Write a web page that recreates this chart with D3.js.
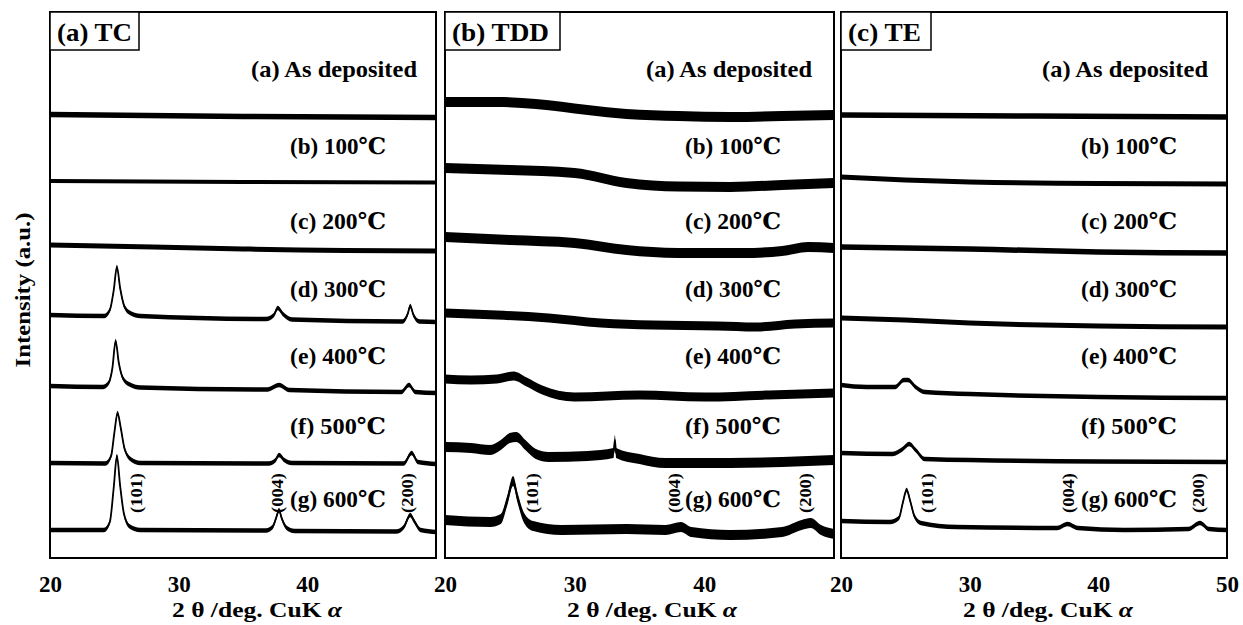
<!DOCTYPE html>
<html>
<head>
<meta charset="utf-8">
<script src="https://cdn.jsdelivr.net/npm/d3@7"></script>
<style>
  body { margin: 0; background: #fff; }
  svg text { font-family: "Liberation Serif", "DejaVu Serif", "Noto Sans CJK JP", serif; font-weight: bold; fill: #000; }
</style>
</head>
<body>
<div id="chart"></div>
<script>
// ---- data ----
const panelNames = ["(a) TC", "(b) TDD", "(c) TE"];
const sampleLabels = ["(a) As deposited", "(b) 100℃", "(c) 200℃", "(d) 300℃", "(e) 400℃", "(f) 500℃", "(g) 600℃"];
const hklLabels = ["(101)", "(004)", "(200)"];
const ticksInner = [20, 30, 40];
const ticksLast = [20, 30, 40, 50];

// [2θ (deg), intensity (a.u., stacked)]
const tcTraces = [
  [[20, 88.7], [35, 88.3], [50, 88.1]],
  [[20, 75.4], [35, 75.2], [50, 75.1]],
  [[20, 62.6], [28, 62.2], [35, 61.8], [50, 61.4]],
  [[20, 48.6], [24.2, 48.4], [24.65, 49.6], [24.95, 53.5], [25.2, 58.2], [25.45, 54], [25.8, 50.2], [26.3, 48.9], [27, 48.4],
   [36.8, 47.8], [37.4, 48.6], [37.7, 50.0], [38.1, 48.8], [38.8, 47.7],
   [47.4, 47.3], [47.8, 48.8], [48.0, 50.4], [48.25, 48.6], [48.7, 47.3], [50, 47.2]],
  [[20, 34.4], [24.1, 34.2], [24.55, 35.0], [24.85, 38.0], [25.1, 43.4], [25.35, 39], [25.7, 35.8], [26.2, 34.7], [27, 34.1],
   [36.9, 33.7], [37.8, 34.6], [38.6, 33.6], [47.3, 33.2], [47.9, 34.6], [48.4, 33.2], [50, 33.0]],
  [[20, 19.0], [24.3, 18.9], [24.75, 20.4], [25.0, 25], [25.25, 29.0], [25.5, 26], [25.8, 21.8], [26.3, 19.7], [27, 19.0],
   [37.0, 18.9], [37.5, 19.5], [37.8, 20.6], [38.2, 19.6], [38.8, 19.0], [47.5, 18.9], [48.1, 21.0], [48.6, 19.2], [50, 18.8]],
  [[20, 5.6], [24.2, 5.6], [24.65, 7.2], [24.95, 14], [25.2, 20.4], [25.45, 14.5], [25.75, 8.8], [26.2, 6.3], [27, 5.6],
   [36.8, 5.5], [37.3, 6.2], [37.6, 8.2], [37.8, 9.6], [38.0, 8.0], [38.4, 6.0], [39, 5.4],
   [46.9, 5.3], [47.5, 6.2], [48.0, 8.6], [48.3, 7.4], [48.8, 5.6], [50, 5.2]]
];

const tddTraces = [
  [[20, 91.2], [24, 91.2], [27, 90.8], [31, 89.6], [34, 88.8], [38, 88.4], [42, 88.2], [46, 88.4], [50, 88.6]],
  [[20, 78.0], [25, 77.6], [30, 77.0], [34, 75.0], [38, 74.3], [42, 74.2], [46, 74.6], [50, 75.0]],
  [[20, 64.2], [25, 63.6], [30, 63.0], [34, 61.6], [38, 61.0], [43, 61.0], [46, 61.4], [48, 62.2], [50, 62.0]],
  [[20, 49.0], [24, 48.6], [28, 48.0], [32, 47.0], [36, 46.6], [41, 46.4], [44, 46.2], [47, 46.8], [50, 47.0]],
  [[20, 35.8], [22, 35.6], [24, 35.8], [25.3, 36.4], [26.3, 35.2], [27.5, 33.6], [30, 32.2], [35, 32.6], [40, 32.2], [45, 32.6], [50, 33.0]],
  [[20, 22.2], [22, 22.0], [23.5, 21.6], [24.3, 22.6], [25.0, 24.0], [25.5, 24.2], [26.2, 22.6], [27, 20.8], [28, 20.2], [31, 20.4],
   [33.0, 21.0], [33.1, 23.6], [33.2, 21.0], [35, 19.8], [37, 19.0], [42, 19.0], [46, 19.2], [50, 19.6]],
  [[20, 7.6], [23.5, 7.2], [24.3, 7.8], [24.8, 11.5], [25.25, 15.4], [25.6, 12.0], [26.1, 8.0], [26.8, 6.4], [29, 5.6], [34, 5.8],
   [37, 5.6], [38.2, 6.2], [39, 5.2], [42, 4.6], [46, 5.2], [47.5, 6.6], [48.2, 7.0], [49, 5.6], [50, 4.8]]
];

const teTraces = [
  [[20, 88.6], [35, 88.4], [50, 88.2]],
  [[20, 76.2], [25, 75.6], [30, 75.2], [40, 74.9], [50, 74.8]],
  [[20, 62.2], [30, 61.8], [40, 61.2], [50, 61.0]],
  [[20, 48.0], [25, 47.6], [30, 47.0], [40, 46.4], [50, 46.2]],
  [[20, 34.6], [22, 34.2], [24.2, 34.2], [24.9, 35.6], [25.2, 35.6], [25.8, 34.2], [26.5, 33.2], [30, 32.8], [40, 32.2], [50, 32.0]],
  [[20, 21.0], [24, 20.8], [24.8, 21.8], [25.3, 22.8], [25.8, 21.6], [26.5, 19.8], [30, 19.6], [40, 19.3], [50, 19.2]],
  [[20, 7.4], [23.8, 7.2], [24.5, 8.0], [24.8, 11.0], [25.1, 13.6], [25.4, 11.2], [25.7, 8.4], [26.2, 7.0], [29, 6.2],
   [36.8, 6.0], [37.6, 6.8], [38.4, 6.0], [42, 5.6], [47, 5.8], [47.9, 7.0], [48.6, 5.8], [50, 5.6]]
];

// half width of the noise band of each trace (a.u.)
const tcNoise = [0.55, 0.4, 0.5, 0.45, 0.45, 0.45, 0.45];
const tddNoise = [1.0, 1.0, 1.0, 0.9, 0.9, 1.0, 1.0];
const teNoise = [0.55, 0.5, 0.55, 0.5, 0.45, 0.45, 0.45];

// ---- layout ----
const W = 1243, H = 625;
const plotTop = 12, plotBottom = 558;
const panels = [
  {left: 50, right: 436, boxW: 89, titleW: 75, traces: tcTraces, noise: tcNoise, ticks: ticksInner},
  {left: 445, right: 834, boxW: 115, titleW: 97, traces: tddTraces, noise: tddNoise, ticks: ticksInner},
  {left: 841, right: 1227, boxW: 90, titleW: 73, traces: teTraces, noise: teNoise, ticks: ticksLast}
];
// label baselines (a.u. on the stacked scale)
const labelLevel = [96.2, 80.8, 65.8, 52.2, 38.8, 24.8, 10.2];
const hklAt = [26.7, 37.65, 47.75];

const svg = d3.select("#chart").append("svg")
  .attr("width", W).attr("height", H);

const y = d3.scaleLinear().domain([0, 110]).range([plotBottom, plotBottom - 550]);

panels.forEach((p, pi) => {
  const x = d3.scaleLinear().domain([20, 50]).range([p.left, p.right]);
  const g = svg.append("g");

  // traces: noise band + centre line
  const band = d3.area()
    .x(d => x(d[0]))
    .curve(d3.curveMonotoneX);
  const line = d3.line()
    .x(d => x(d[0])).y(d => y(d[1]))
    .curve(d3.curveMonotoneX);

  p.traces.forEach((tr, i) => {
    const a = p.noise[i];
    g.append("path")
      .attr("d", band.y0(d => y(d[1] - a)).y1(d => y(d[1] + a))(tr))
      .attr("fill", "#000");
    g.append("path")
      .attr("d", line(tr))
      .attr("fill", "none")
      .attr("stroke", "#000")
      .attr("stroke-width", 1.8);
  });

  // frame
  g.append("rect")
    .attr("x", p.left).attr("y", plotTop)
    .attr("width", p.right - p.left).attr("height", plotBottom - plotTop)
    .attr("fill", "none").attr("stroke", "#000").attr("stroke-width", 2);

  // panel title box
  g.append("rect")
    .attr("x", p.left).attr("y", plotTop)
    .attr("width", p.boxW).attr("height", 38)
    .attr("fill", "#fff").attr("stroke", "#000").attr("stroke-width", 1.5);
  g.append("text")
    .attr("x", p.left + 7).attr("y", plotTop + 29)
    .attr("font-size", 25)
    .attr("textLength", p.titleW)
    .attr("lengthAdjust", "spacingAndGlyphs")
    .text(panelNames[pi]);

  // sample labels
  g.selectAll(".lab")
    .data(sampleLabels)
    .join("text")
      .attr("x", (d, i) => p.left + (i === 0 ? 201 : 240))
      .attr("y", (d, i) => y(labelLevel[i]))
      .attr("font-size", 23)
      .attr("textLength", (d, i) => i === 0 ? 166 : 96)
      .attr("lengthAdjust", "spacingAndGlyphs")
      .text(d => d);

  // hkl labels
  hklLabels.forEach((h, i) => {
    g.append("text")
      .attr("transform", `translate(${x(hklAt[i])},${y(13)}) rotate(-90)`)
      .attr("text-anchor", "middle")
      .attr("dy", "0.35em")
      .attr("font-size", 17)
      .attr("textLength", 40)
      .attr("lengthAdjust", "spacingAndGlyphs")
      .text(h);
  });

  // x axis
  const ax = svg.append("g")
    .attr("transform", `translate(0,${plotBottom})`)
    .call(d3.axisBottom(x).tickValues(p.ticks).tickSize(0).tickPadding(18).tickFormat(d3.format("d")));
  ax.select(".domain").remove();
  ax.selectAll("text")
    .attr("font-size", 23)
    .attr("fill", "#000");

  const t = svg.append("text")
    .attr("x", p.left + 122)
    .attr("y", 617)
    .attr("font-size", 22)
    .attr("textLength", 170)
    .attr("lengthAdjust", "spacingAndGlyphs");
  t.append("tspan").text("2 θ /deg.  CuK ");
  t.append("tspan").attr("font-style", "italic").text("α");
});

// y axis title
svg.append("text")
  .attr("transform", "translate(30,290) rotate(-90)")
  .attr("text-anchor", "middle")
  .attr("font-size", 22)
  .attr("textLength", 155)
  .attr("lengthAdjust", "spacingAndGlyphs")
  .text("Intensity (a.u.)");
</script>
</body>
</html>
